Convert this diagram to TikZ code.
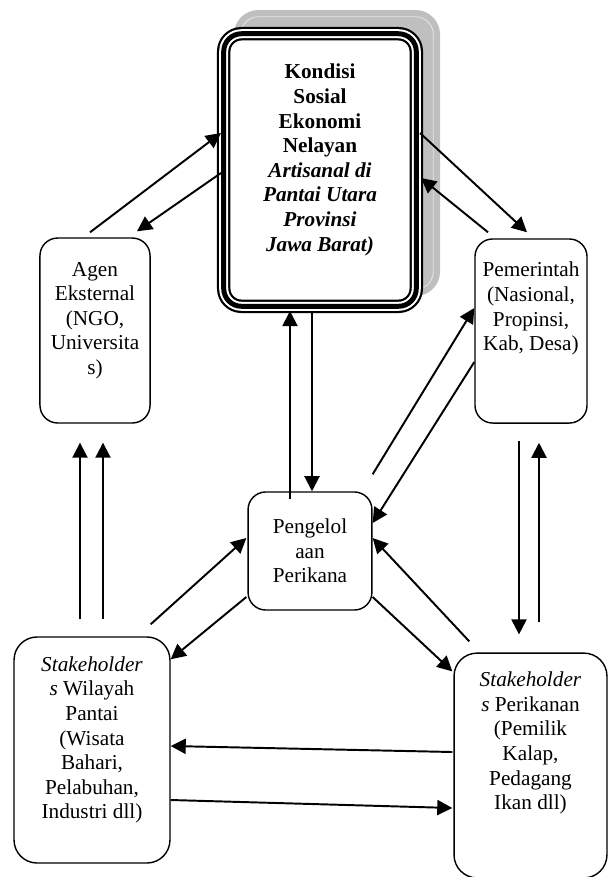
\documentclass[tikz,border=0pt]{standalone}
\usepackage{fontspec}
\setmainfont{Liberation Serif}
\usetikzlibrary{arrows.meta,shadows}

\begin{document}
\begin{tikzpicture}[x=0.565pt, y=-0.565pt, >={Triangle[length=8.5pt,width=8.5pt]},
    box/.style={draw, line width=0.8pt, rounded corners=10pt, fill=white, align=center,
        inner sep=0pt, font=\fontsize{12}{13.9}\selectfont},
    bigbox/.style={box, rounded corners=13pt},
    panah/.style={->, line width=1.1pt}]

        % ukuran gambar (satuan piksel)
        \useasboundingbox (0,0) rectangle (612,877);

        % kotak utama: bayangan abu-abu dan garis tiga lapis
        \node[box, line width=7.6pt, minimum width=108.8pt, minimum height=154pt,
            drop shadow={shadow xshift=9.6pt, shadow yshift=9.6pt, fill=gray!50, opacity=1,
                draw=gray!50, line width=3.55pt, double=white!80!gray, double distance=0.5pt},
            postaction={draw=white, line width=5.1pt},
            postaction={draw=black, line width=2.8pt}] (kondisi) at (320,170)
            {\textbf{Kondisi}\\ \textbf{Sosial}\\ \textbf{Ekonomi}\\ \textbf{Nelayan}\\
             \textbf{\textit{Artisanal di}}\\ \textbf{\textit{Pantai Utara}}\\
             \textbf{\textit{Provinsi}}\\ \textbf{\textit{Jawa Barat)}}\\ \mbox{}};

        % kotak-kotak lain
        \node[box, minimum width=62.2pt, minimum height=104.5pt] (agen) at (95,330.5)
            {Agen\\ Eksternal\\ (NGO,\\ Universita\\ s)\\ \mbox{}};
        \node[box, minimum width=63.3pt, minimum height=104pt] (pemerintah) at (531,331)
            {Pemerintah\\ (Nasional,\\ Propinsi,\\ Kab, Desa)\\ \mbox{}\\ \mbox{}};
        \node[box, minimum width=70pt, minimum height=66.7pt] (pengelolaan) at (310,551)
            {Pengelol\\ aan\\ Perikana};
        \node[bigbox, minimum width=88.1pt, minimum height=127.7pt] (wilayah) at (92,750)
            {\textit{Stakeholder}\\ \textit{s} Wilayah\\ Pantai\\ (Wisata\\ Bahari,\\
             Pelabuhan,\\ Industri dll)\\ \mbox{}};
        \node[bigbox, minimum width=86.4pt, minimum height=127pt] (perikanan) at (530.5,765.5)
            {\textit{Stakeholder}\\ \textit{s} Perikanan\\ (Pemilik\\ Kalap,\\ Pedagang\\
             Ikan dll)\\ \mbox{}\\ \mbox{}};

        % agen <-> kondisi
        \draw[panah] ([shift={(-5,-5)}]agen.north) -- ([shift={(4,-37)}]kondisi.west);
        \draw[panah] ([shift={(4,3)}]kondisi.west) -- ([shift={(42,-6)}]agen.north);

        % kondisi <-> pemerintah
        \draw[panah] ([shift={(-3,-37)}]kondisi.east) -- ([shift={(-4,-6)}]pemerintah.north);
        \draw[panah] ([shift={(-43,-6)}]pemerintah.north) -- ([shift={(-2,8)}]kondisi.east);

        % pengelolaan <-> kondisi
        \draw[panah] ([shift={(-20,8)}]pengelolaan.north) -- ([shift={(-30,-2)}]kondisi.south);
        \draw[panah] ([shift={(-8,0)}]kondisi.south) -- ([shift={(2,0)}]pengelolaan.north);

        % pengelolaan <-> pemerintah
        \draw[panah] ([shift={(0,-17)}]pengelolaan.north east) -- ([shift={(0,-23)}]pemerintah.west);
        \draw[panah] ([shift={(0,31)}]pemerintah.west) -- ([shift={(0,-28)}]pengelolaan.east);

        % pemerintah <-> perikanan
        \draw[panah] ([shift={(-12,17)}]pemerintah.south) -- ([shift={(-11.5,-18)}]perikanan.north);
        \draw[panah] ([shift={(8.5,-30)}]perikanan.north) -- ([shift={(8,19)}]pemerintah.south);

        % wilayah -> agen (dua panah)
        \draw[panah] ([shift={(-12,-17)}]wilayah.north) -- ([shift={(-15,19)}]agen.south);
        \draw[panah] ([shift={(11,-17)}]wilayah.north) -- ([shift={(8,19)}]agen.south);

        % wilayah <-> pengelolaan
        \draw[panah] ([shift={(-20,-12)}]wilayah.north east) -- ([shift={(-1,-13)}]pengelolaan.west);
        \draw[panah] ([shift={(-1,46)}]pengelolaan.west) -- ([shift={(0,23)}]wilayah.north east);

        % pengelolaan <-> perikanan
        \draw[panah] ([shift={(0,46)}]pengelolaan.east) -- ([shift={(-1,19)}]perikanan.north west);
        \draw[panah] ([shift={(16,-11)}]perikanan.north west) -- ([shift={(0,-13)}]pengelolaan.east);

        % perikanan <-> wilayah
        \draw[panah] ([shift={(-1,-13.5)}]perikanan.west) -- ([shift={(0,-4)}]wilayah.east);
        \draw[panah] ([shift={(0,50)}]wilayah.east) -- ([shift={(-1,42.5)}]perikanan.west);

    \end{tikzpicture}
\end{document}
